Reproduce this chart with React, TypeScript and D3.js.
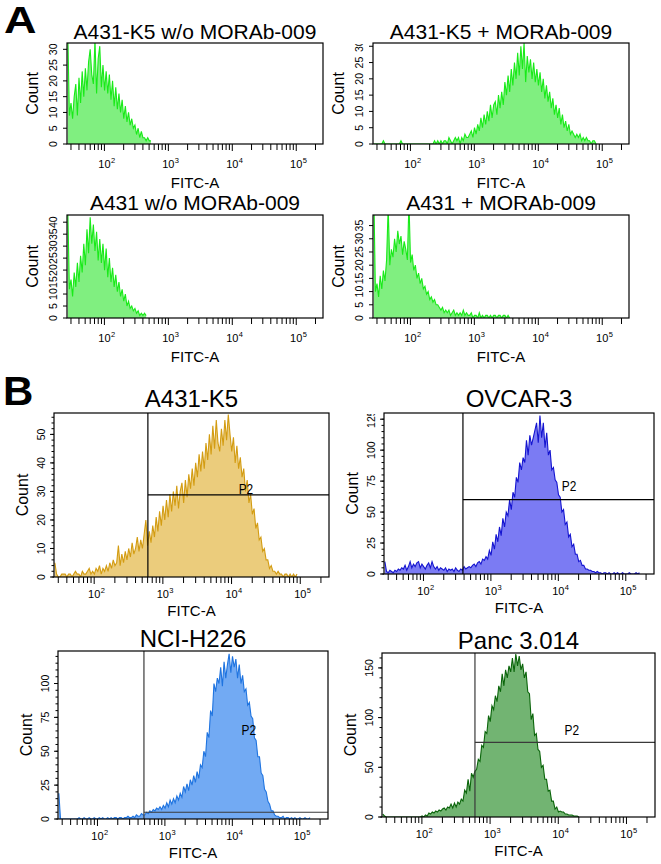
import React from 'react'
import * as d3 from 'd3'

// FITC-A axis range (log) and histogram binning, in decades
const FITC_MIN = 26
const FITC_MAX = 262144
const BIN_DECADES = 0.025
const X_LABELS = [100, 1000, 10000, 100000]

// counts per bin, first bin starts at FITC_MIN
const a431k5NoAb = [
  35, 9, 13, 8, 15, 19, 9, 21, 13, 23,
  15, 24, 17, 26, 30, 22, 19, 33, 16, 27,
  31, 18, 25, 17, 23, 16, 22, 14, 20, 12,
  18, 11, 16, 10, 14, 8, 12, 7, 10, 6,
  8, 5, 6, 3, 5, 2, 4, 2, 2, 1,
  2, 1, 1,
]
const a431k5WithAb = [
  0, 0, 0, 0, 0, 0, 1, 0, 0, 0,
  0, 0, 0, 0, 0, 0, 0, 1, 0, 0,
  0, 0, 0, 0, 0, 0, 0, 0, 0, 0,
  0, 0, 0, 0, 0, 0, 0, 0, 1, 0,
  1, 0, 1, 0, 1, 1, 0, 2, 1, 0,
  1, 2, 1, 2, 0, 2, 1, 3, 2, 2,
  3, 4, 2, 5, 3, 6, 4, 8, 5, 9,
  6, 10, 7, 12, 8, 12, 13, 9, 15, 11,
  16, 12, 19, 15, 21, 16, 23, 18, 25, 20,
  28, 21, 30, 23, 31, 19, 27, 22, 26, 20,
  25, 19, 23, 18, 22, 16, 20, 14, 18, 13,
  16, 11, 14, 9, 12, 8, 11, 6, 9, 5,
  7, 4, 6, 3, 4, 3, 2, 3, 2, 3,
  1, 2, 1, 2, 1, 1, 0, 1, 1, 0,
]
const a431NoAb = [
  45, 12, 16, 9, 19, 13, 23, 15, 26, 19,
  31, 22, 37, 27, 42, 31, 39, 28, 36, 24,
  33, 23, 31, 20, 29, 17, 25, 15, 21, 13,
  18, 11, 15, 9, 12, 7, 10, 5, 7, 4,
  5, 3, 4, 2, 3, 1, 2, 1, 2, 1,
]
const a431WithAb = [
  48, 10, 13, 8, 16, 11, 18, 14, 22, 42,
  20, 26, 23, 30, 25, 33, 28, 31, 24, 29,
  26, 22, 44, 21, 24, 18, 20, 15, 17, 13,
  15, 11, 12, 9, 10, 7, 8, 6, 7, 5,
  5, 4, 3, 4, 2, 3, 2, 3, 1, 2,
  3, 1, 2, 1, 2, 1, 3, 1, 2, 1,
  1, 2, 0, 1, 1, 0, 2, 0, 1, 0,
  1, 1, 0, 1, 0, 1, 1, 0, 1, 1,
  0, 1, 1, 0, 1, 0,
]
const a431k5 = [
  5, 1, 0, 0, 1, 1, 1, 0, 1, 1,
  0, 1, 2, 1, 1, 0, 2, 1, 1, 2,
  3, 1, 2, 1, 3, 2, 4, 1, 3, 2,
  4, 2, 5, 3, 6, 4, 5, 11, 4, 8,
  5, 9, 6, 10, 7, 12, 8, 10, 14, 9,
  13, 10, 15, 20, 11, 16, 12, 18, 14, 21,
  16, 23, 18, 25, 20, 27, 21, 29, 23, 30,
  25, 32, 24, 30, 33, 26, 34, 28, 36, 31,
  38, 32, 40, 35, 43, 37, 44, 38, 47, 41,
  50, 43, 53, 45, 55, 47, 44, 52, 46, 55,
  48, 57, 50, 44, 49, 40, 46, 38, 42, 35,
  38, 30, 34, 26, 29, 22, 24, 17, 19, 13,
  14, 9, 10, 6, 6, 3, 4, 2, 2, 1,
  2, 1, 1, 0, 1, 1, 0, 1, 0, 1, 0, 1,
]
const ovcar3 = [
  10, 2, 1, 3, 2, 1, 3, 2, 4, 3,
  5, 4, 7, 3, 6, 10, 5, 8, 6, 9,
  10, 5, 8, 6, 4, 7, 9, 5, 10, 6,
  4, 6, 3, 5, 4, 3, 5, 2, 4, 3,
  4, 2, 5, 3, 2, 4, 3, 6, 4, 5,
  6, 5, 7, 8, 6, 9, 10, 8, 12, 11,
  14, 12, 19, 15, 26, 20, 32, 26, 38, 31,
  45, 38, 50, 47, 60, 52, 66, 62, 78, 74,
  90, 84, 94, 90, 108, 96, 112, 104, 110, 116,
  122, 106, 128, 110, 122, 102, 114, 96, 100, 84,
  86, 76, 74, 64, 62, 50, 52, 40, 42, 30,
  32, 22, 24, 16, 16, 10, 11, 7, 7, 4,
  4, 3, 3, 2, 2, 1, 2, 1, 1, 0,
  1, 1, 0, 1, 0, 0, 1, 0, 1, 0,
  0, 1, 0, 0, 0, 1, 0, 0, 0, 1, 0, 1,
]
const nciH226 = [
  19, 0, 0, 0, 0, 0, 0, 0, 0, 0,
  0, 0, 1, 0, 0, 1, 0, 0, 1, 0,
  0, 1, 0, 0, 1, 0, 1, 0, 0, 1,
  0, 1, 0, 1, 1, 0, 1, 1, 0, 1,
  1, 2, 1, 1, 2, 1, 3, 2, 2, 4,
  3, 3, 5, 4, 6, 5, 7, 6, 8, 7,
  9, 7, 10, 8, 12, 9, 14, 11, 15, 12,
  17, 14, 19, 16, 24, 20, 26, 21, 29, 25,
  32, 27, 35, 30, 40, 38, 50, 46, 64, 60,
  80, 76, 100, 94, 104, 100, 112, 98, 116, 104,
  114, 122, 108, 120, 112, 118, 104, 114, 100, 106,
  94, 96, 84, 86, 76, 74, 60, 58, 46, 46,
  34, 32, 22, 20, 13, 11, 6, 6, 3, 2,
  2, 1, 1, 2, 0, 1, 1, 0, 1, 0,
  1, 0, 0, 1, 0, 0, 1, 0, 0, 1,
]
const panc3014 = [
  3, 1, 0, 0, 0, 0, 0, 0, 0, 0,
  0, 0, 0, 0, 0, 0, 0, 0, 0, 0,
  0, 0, 0, 1, 0, 2, 1, 4, 3, 5,
  4, 6, 5, 7, 6, 8, 9, 7, 10, 9,
  13, 9, 14, 10, 15, 13, 18, 16, 27, 24,
  38, 26, 44, 40, 46, 48, 58, 56, 72, 70,
  86, 84, 102, 96, 112, 108, 122, 116, 132, 126,
  144, 132, 148, 140, 152, 146, 160, 146, 164, 152,
  162, 148, 154, 140, 146, 126, 124, 98, 104, 82,
  84, 68, 66, 50, 52, 38, 38, 26, 27, 16,
  16, 8, 10, 5, 6, 5, 5, 3, 3, 2,
  2, 2, 1, 1, 1, 0,
]

// gate P2: FITC threshold and count level
const gateFitc = [605, 385, 489, 600]
const gateCount = [28.8, 60, 5, 75]
const p2LabelFitc = [16200, 14400, 17600, 15800]
const p2LabelCount = [29, 67, 62, 82.5]

const A_FILL = '#80ef80'
const A_LINE = '#19ea19'

type Panel = {
  title: string
  counts: number[]
  yMax: number
  yTicks: number[]
  minor?: number
  box: { x: number; y: number; w: number; h: number }
  titleY: number
  titleSize: number
  fill: string
  line: string
  gate?: number
  big?: boolean
}

const panels: Panel[] = [
  { title: 'A431-K5 w/o MORAb-009', counts: a431k5NoAb, yMax: 32, yTicks: [0, 5, 10, 15, 20, 25, 30],
    box: { x: 67, y: 43, w: 256, h: 101 }, titleY: 39, titleSize: 21, fill: A_FILL, line: A_LINE },
  { title: 'A431-K5 + MORAb-009', counts: a431k5WithAb, yMax: 31, yTicks: [0, 5, 10, 15, 20, 25, 30],
    box: { x: 373, y: 43, w: 256, h: 101 }, titleY: 39, titleSize: 21, fill: A_FILL, line: A_LINE },
  { title: 'A431 w/o MORAb-009', counts: a431NoAb, yMax: 43, yTicks: [0, 5, 10, 15, 20, 25, 30, 35, 40],
    box: { x: 67, y: 215, w: 256, h: 103 }, titleY: 210, titleSize: 21, fill: A_FILL, line: A_LINE },
  { title: 'A431 + MORAb-009', counts: a431WithAb, yMax: 39, yTicks: [0, 5, 10, 15, 20, 25, 30, 35],
    box: { x: 373, y: 215, w: 256, h: 103 }, titleY: 210, titleSize: 21, fill: A_FILL, line: A_LINE },
  { title: 'A431-K5', counts: a431k5, yMax: 57.5, yTicks: [0, 10, 20, 30, 40, 50], minor: 2,
    box: { x: 54, y: 413, w: 275, h: 164 }, titleY: 407, titleSize: 24, fill: '#ebcc7c', line: '#d39c12', gate: 0, big: true },
  { title: 'OVCAR-3', counts: ovcar3, yMax: 130, yTicks: [0, 25, 50, 75, 100, 125], minor: 5,
    box: { x: 384, y: 413, w: 270, h: 161 }, titleY: 407, titleSize: 24, fill: '#7b7bf3', line: '#1515d0', gate: 1, big: true },
  { title: 'NCI-H226', counts: nciH226, yMax: 124, yTicks: [0, 25, 50, 75, 100], minor: 5,
    box: { x: 58, y: 651, w: 270, h: 168 }, titleY: 647, titleSize: 24, fill: '#72aaf3', line: '#1f74e0', gate: 2, big: true },
  { title: 'Panc 3.014', counts: panc3014, yMax: 165, yTicks: [0, 50, 100, 150], minor: 10,
    box: { x: 382, y: 653, w: 273, h: 164 }, titleY: 649, titleSize: 24, fill: '#72b472', line: '#0b650b', gate: 3, big: true },
]

const FONT = 'Arial, "Liberation Sans", sans-serif'

function Histogram({ p, idx }: { p: Panel; idx: number }) {
  const { box } = p
  const x = d3.scaleLog().domain([FITC_MIN, FITC_MAX]).range([box.x, box.x + box.w])
  const y = d3.scaleLinear().domain([0, p.yMax]).range([box.y + box.h, box.y])
  const pts: [number, number][] = p.counts.map((c, i) => [FITC_MIN * Math.pow(10, BIN_DECADES * (i + 0.5)), c])
  const area = d3.area<[number, number]>().x(d => x(d[0])).y0(y(0)).y1(d => y(d[1]))
  const line = d3.line<[number, number]>().x(d => x(d[0])).y(d => y(d[1]))
  const clipId = `clip-${idx}`
  const bottom = box.y + box.h

  const xTicks: { v: number; major: boolean }[] = []
  for (let n = 1; n <= 5; n++) {
    for (let k = 1; k <= 9; k++) {
      const v = k * Math.pow(10, n)
      if (v > FITC_MIN && v < FITC_MAX) xTicks.push({ v, major: k === 1 })
    }
  }
  const minorTicks = p.minor ? d3.range(0, p.yMax, p.minor) : []
  const labBase = p.big ? bottom + 21 : bottom + 24
  const fitcBase = p.big ? bottom + 39 : bottom + 44
  const gi = p.gate
  const gateColor = gi !== undefined && gi >= 2 ? '#3a3a3a' : '#000'

  return (
    <g fontFamily={FONT}>
      <defs>
        <clipPath id={clipId}>
          <rect x={box.x} y={box.y} width={box.w} height={box.h} />
        </clipPath>
        <clipPath id={clipId + 'l'}>
          <rect x={box.x - 40} y={box.y + 1} width={40} height={box.h + 10} />
        </clipPath>
      </defs>
      <text x={box.x + box.w / 2} y={p.titleY} textAnchor="middle" fontSize={p.titleSize}>{p.title}</text>
      <g clipPath={`url(#${clipId})`}>
        <path d={area(pts) || ''} fill={p.fill} />
        <path d={line(pts) || ''} fill="none" stroke={p.line} strokeWidth={1.1} />
      </g>
      {gi !== undefined && (
        <g stroke={gateColor} strokeWidth={1.2}>
          <line x1={x(gateFitc[gi])} x2={x(gateFitc[gi])} y1={box.y} y2={bottom} />
          <line x1={x(gateFitc[gi])} x2={box.x + box.w} y1={y(gateCount[gi])} y2={y(gateCount[gi])} />
        </g>
      )}
      {gi !== undefined && (
        <text x={x(p2LabelFitc[gi])} y={y(p2LabelCount[gi])} textAnchor="middle" fontSize={14}
          transform={`translate(${x(p2LabelFitc[gi])},0) scale(0.85,1) translate(${-x(p2LabelFitc[gi])},0)`}>P2</text>
      )}
      <rect x={box.x} y={box.y} width={box.w} height={box.h} fill="none" stroke="#000" strokeWidth={1.2} />
      {/* x axis */}
      <g stroke="#000" strokeWidth={1}>
        {xTicks.map(t => (
          <line key={t.v} x1={x(t.v)} x2={x(t.v)} y1={bottom} y2={bottom + (t.major ? 7 : 6)} />
        ))}
      </g>
      {X_LABELS.map(v => (
        <g key={v}>
          <text x={x(v)} y={labBase} textAnchor="middle" fontSize={11}>10</text>
          <text x={x(v) + 6.5} y={labBase - 5} fontSize={7.5}>{Math.round(Math.log10(v))}</text>
        </g>
      ))}
      <text x={box.x + box.w / 2} y={fitcBase} textAnchor="middle" fontSize={15}>FITC-A</text>
      {/* y axis */}
      <g stroke="#000" strokeWidth={1}>
        {minorTicks.map(t => (
          <line key={'m' + t} x1={box.x - 2.5} x2={box.x} y1={y(t)} y2={y(t)} />
        ))}
        {p.yTicks.map(t => (
          <line key={t} x1={box.x - 4} x2={box.x} y1={y(t)} y2={y(t)} />
        ))}
      </g>
      <g clipPath={`url(#${clipId}l)`}>
        {p.yTicks.map(t => (
          <text key={t} transform={`translate(${box.x - (p.big ? 9 : 10)},${y(t)}) rotate(-90)`} textAnchor="middle"
            fontSize={10.5}>{t}</text>
        ))}
      </g>
      <text transform={`translate(${box.x - (p.big ? 26 : 29)},${box.y + box.h / 2}) rotate(-90)`} textAnchor="middle"
        fontSize={16}>Count</text>
    </g>
  )
}

export default function App() {
  return (
    <svg width={661} height={864} style={{ position: 'absolute', left: 0, top: 0, background: '#fff' }}>
      <rect width={661} height={864} fill="#fff" />
      {panels.map((p, i) => <Histogram key={p.title} p={p} idx={i} />)}
      <text x={4} y={33} fontFamily={FONT} fontWeight="bold" fontSize={36}
        transform="translate(4,0) scale(1.25,1) translate(-4,0)">A</text>
      <text x={3} y={405} fontFamily={FONT} fontWeight="bold" fontSize={40}
        transform="translate(3,0) scale(1.05,1) translate(-3,0)">B</text>
    </svg>
  )
}
